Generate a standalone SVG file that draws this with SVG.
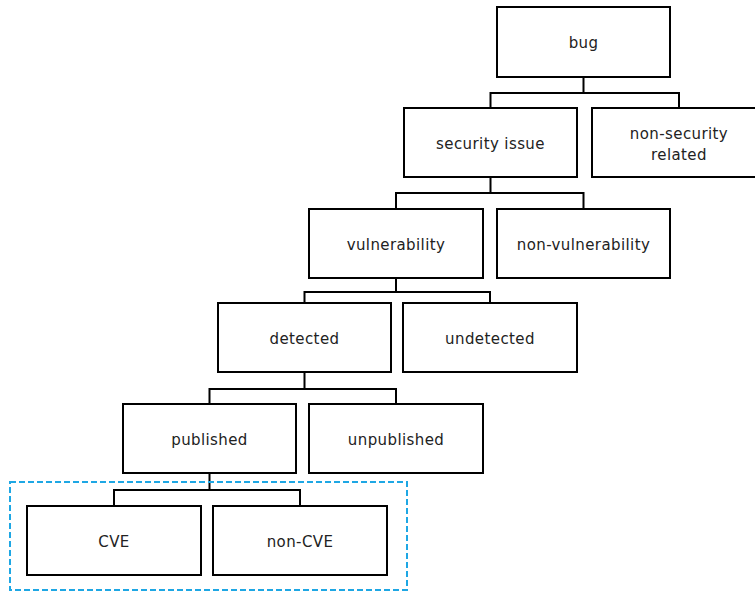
<svg xmlns="http://www.w3.org/2000/svg" width="755" height="594" viewBox="0 0 755 594">
<style>
.box{fill:#fff;stroke:#000;stroke-width:2}
.lbl{font-family:"DejaVu Sans",Verdana,sans-serif;font-size:15px;letter-spacing:0.4px;fill:#222;text-anchor:middle}
.conn{fill:none;stroke:#000;stroke-width:2}
.sel{fill:none;stroke:#1ea7e4;stroke-width:2;stroke-dasharray:6 3}
</style>
<rect width="755" height="594" fill="#fff"/>
<g id="connectors">
<path class="conn" d="M583.5 77V93M490.5 108V93H679V108"/>
<path class="conn" d="M490.5 177V193M396 209V193H583.5V209"/>
<path class="conn" d="M396 278V292M304.5 303V292H490V303"/>
<path class="conn" d="M304.5 372V389M209.5 404V389H396V404"/>
<path class="conn" d="M209.5 473V490M114 506V490H300V506"/>
</g>
<g id="selection"><rect class="sel" x="10" y="482" width="397" height="108"/></g>
<g id="bug"><rect class="box" x="497" y="7" width="173" height="70"/><text class="lbl" x="583.5" y="48">bug</text></g>
<g id="security-issue"><rect class="box" x="404" y="108" width="173" height="69"/><text class="lbl" x="490.5" y="148.5">security issue</text></g>
<g id="non-security-related"><rect class="box" x="592" y="108" width="174" height="69"/><text class="lbl" x="679" y="138.5">non-security</text><text class="lbl" x="679" y="159.5">related</text></g>
<g id="vulnerability"><rect class="box" x="309" y="209" width="174" height="69"/><text class="lbl" x="396" y="249.5">vulnerability</text></g>
<g id="non-vulnerability"><rect class="box" x="497" y="209" width="173" height="69"/><text class="lbl" x="583.5" y="249.5">non-vulnerability</text></g>
<g id="detected"><rect class="box" x="218" y="303" width="173" height="69"/><text class="lbl" x="304.5" y="343.5">detected</text></g>
<g id="undetected"><rect class="box" x="403" y="303" width="174" height="69"/><text class="lbl" x="490" y="343.5">undetected</text></g>
<g id="published"><rect class="box" x="123" y="404" width="173" height="69"/><text class="lbl" x="209.5" y="444.5">published</text></g>
<g id="unpublished"><rect class="box" x="309" y="404" width="174" height="69"/><text class="lbl" x="396" y="444.5">unpublished</text></g>
<g id="cve"><rect class="box" x="27" y="506" width="174" height="69"/><text class="lbl" x="114" y="546.5">CVE</text></g>
<g id="non-cve"><rect class="box" x="213" y="506" width="174" height="69"/><text class="lbl" x="300" y="546.5">non-CVE</text></g>
</svg>
